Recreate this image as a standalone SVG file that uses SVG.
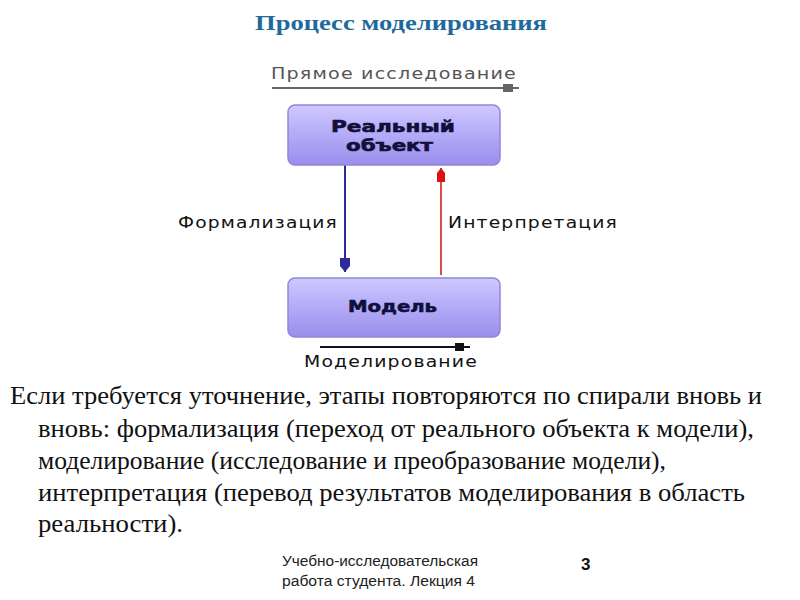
<svg xmlns="http://www.w3.org/2000/svg" width="800" height="600" viewBox="0 0 800 600">
<defs>
<linearGradient id="boxg" x1="0" y1="0" x2="0" y2="1">
<stop offset="0" stop-color="#cfc9ff"/>
<stop offset="0.5" stop-color="#b3aaf8"/>
<stop offset="1" stop-color="#9a8eea"/>
</linearGradient>
</defs>
<style>
.title{font-family:"Liberation Serif",serif;font-weight:bold;font-size:22px;fill:#1f6a9c}
.body{font-family:"Liberation Serif",serif;font-size:26px;fill:#111}
.lbl{font-family:"DejaVu Sans",sans-serif;font-size:16px;fill:#111;letter-spacing:1px}
.box{fill:url(#boxg);stroke:#8f86dc;stroke-width:1.5}
.btxt{font-family:"DejaVu Sans",sans-serif;font-weight:bold;font-size:16px;fill:#10103a;stroke:#10103a;stroke-width:0.6}
.foot{font-family:"Liberation Sans",sans-serif;font-size:14px;fill:#222}
</style>
<rect width="800" height="600" fill="#ffffff"/>
<text class="title" x="401" y="30" text-anchor="middle" textLength="292" lengthAdjust="spacingAndGlyphs">Процесс моделирования</text>

<g id="connectors">
<text class="lbl" x="271" y="79" style="fill:#555" textLength="246" lengthAdjust="spacingAndGlyphs">Прямое исследование</text>
<line x1="272" y1="88" x2="519" y2="88" stroke="#666" stroke-width="2"/>
<rect x="503" y="84" width="10" height="8" fill="#666"/>
<line x1="345" y1="165" x2="345" y2="272" stroke="#2e2a9a" stroke-width="2"/>
<path d="M340,258 H350 V266 L345,272 L340,266 Z" fill="#2e2a9a"/>
<line x1="441" y1="275" x2="441" y2="168" stroke="#cc1111" stroke-width="1.5"/>
<path d="M437,182 H445 V173 L441,168 L437,173 Z" fill="#dd1111"/>
<text class="lbl" x="178" y="228" textLength="160" lengthAdjust="spacingAndGlyphs">Формализация</text>
<text class="lbl" x="448" y="228" textLength="170" lengthAdjust="spacingAndGlyphs">Интерпретация</text>
<line x1="320" y1="347" x2="470" y2="347" stroke="#111" stroke-width="2"/>
<rect x="455" y="343" width="9" height="8" fill="#111"/>
<text class="lbl" x="304" y="367" textLength="174" lengthAdjust="spacingAndGlyphs">Моделирование</text>
</g>

<g id="real-object">
<rect class="box" x="288" y="105" width="212" height="60" rx="7"/>
<text class="btxt" x="331" y="132" textLength="124" lengthAdjust="spacingAndGlyphs">Реальный</text>
<text class="btxt" x="346" y="151" textLength="87" lengthAdjust="spacingAndGlyphs">объект</text>
</g>

<g id="model">
<rect class="box" x="288" y="278" width="212" height="59" rx="7"/>
<text class="btxt" x="348" y="312" textLength="89" lengthAdjust="spacingAndGlyphs">Модель</text>
</g>

<g id="body-text">
<text class="body" x="10" y="404" textLength="752" lengthAdjust="spacingAndGlyphs">Если требуется уточнение, этапы повторяются по спирали вновь и</text>
<text class="body" x="38" y="437" textLength="716" lengthAdjust="spacingAndGlyphs">вновь: формализация (переход от реального объекта к модели),</text>
<text class="body" x="38" y="469" textLength="628" lengthAdjust="spacingAndGlyphs">моделирование (исследование и преобразование модели),</text>
<text class="body" x="38" y="501" textLength="707" lengthAdjust="spacingAndGlyphs">интерпретация (перевод результатов моделирования в область</text>
<text class="body" x="38" y="532" textLength="145" lengthAdjust="spacingAndGlyphs">реальности).</text>
</g>

<g id="footer">
<text class="foot" x="282" y="566" textLength="196" lengthAdjust="spacingAndGlyphs">Учебно-исследовательская</text>
<text class="foot" x="282" y="586" textLength="193" lengthAdjust="spacingAndGlyphs">работа студента. Лекция 4</text>
<text class="foot" x="581" y="570" style="font-weight:bold;font-size:17px;fill:#111">3</text>
</g>
</svg>
